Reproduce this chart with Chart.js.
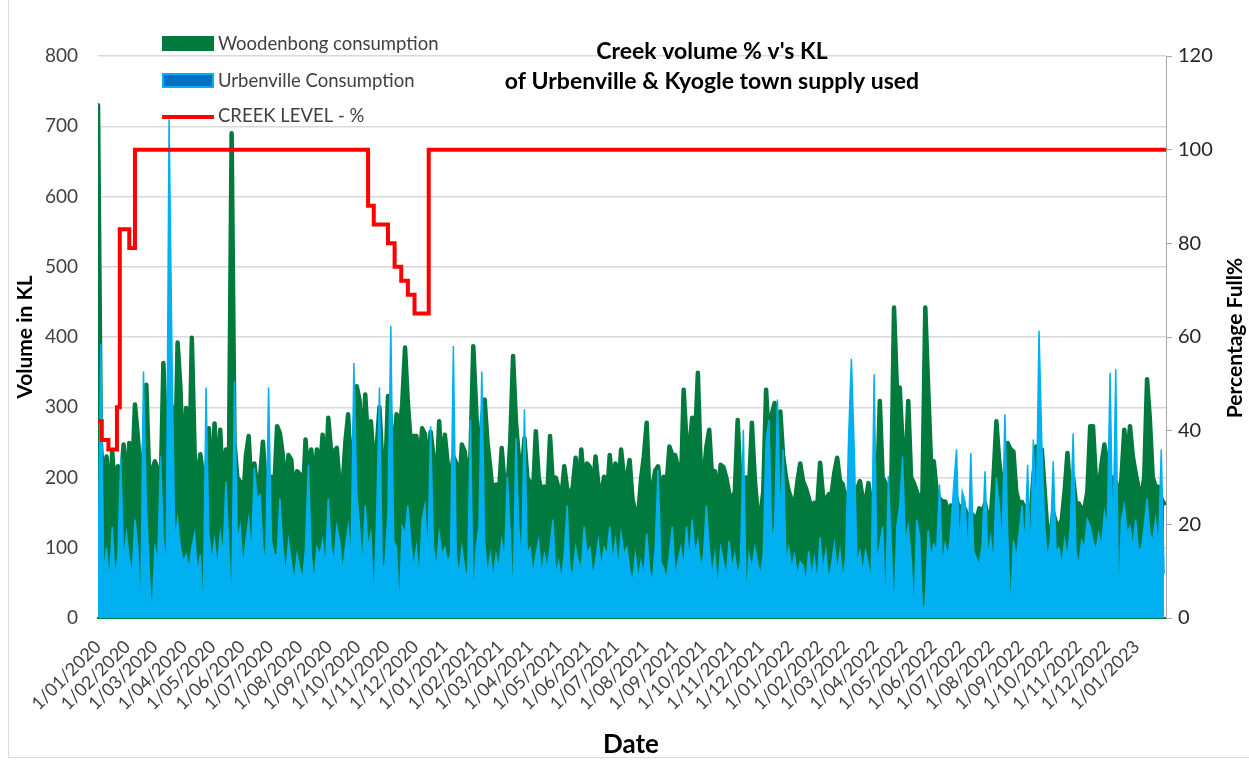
<!DOCTYPE html>
<html>
<head>
<meta charset="utf-8">
<script src="https://cdn.jsdelivr.net/npm/chart.js@4.4.1/dist/chart.umd.min.js"></script>
<style>
  html, body { margin: 0; padding: 0; background: #fff; overflow: hidden; }
  #wrap { position: relative; width: 1249px; height: 761px; }
  #frame { position: absolute; left: 8px; top: -2px; width: 1260px; height: 760px; border: 1px solid #d9d9d9; box-sizing: border-box; pointer-events: none; }
  canvas { position: absolute; left: 0; top: 0; }
</style>
</head>
<body>
<div id="wrap"><canvas id="chart" width="1249" height="761"></canvas><div id="frame"></div></div>
<script>
const GREEN = "#007a3d";
const BLUE = "#00b0f0";
const RED = "#ff0000";
const FONT = "Lato, 'Open Sans', sans-serif";

const TITLE = ["Creek volume % v's KL", "of Urbenville & Kyogle town supply used"];
const SERIES_NAMES = ["Woodenbong consumption", "Urbenville Consumption", "CREEK LEVEL - %"];
const START = Date.UTC(2020, 0, 1);
const SAMPLE_DAYS = 3; // one reading every 3 days from 1/01/2020

// Woodenbong consumption, KL
const woodenbong = [
  730,250,180,230,160,237,175,216,190,247, 185,249,200,304,259,200,230,332,200,210,
  223,211,175,363,250,280,301,190,392,328, 200,299,180,399,235,180,233,200,200,270,
  180,277,190,268,175,240,190,690,250,200, 194,160,230,259,180,220,185,200,251,190,
  200,201,185,
  273,263,232,180,232,225,170,209,205,165, 254,200,240,190,240,200,261,190,285,237,
  237,242,190,185,250,290,200,250,330,310, 230,318,250,280,220,240,300,220,197,316,
  280,220,290,260,304,385,306,250,259,259, 210,270,262,210,265,230,180,280,200,261,
  220,199,
  230,220,180,247,237,200,230,387,300,200, 280,311,250,213,170,190,175,242,190,180,
  250,373,280,230,200,256,200,192,175,266, 200,180,187,170,259,190,200,185,170,216,
  185,170,187,228,180,240,190,220,215,175, 230,190,175,201,170,232,185,220,175,240,
  200,
  200,225,170,150,145,197,230,278,170,185, 210,216,175,201,190,244,232,232,215,180,
  325,251,240,285,250,349,216,200,244,268, 200,209,170,218,215,200,178,165,180,282,
  192,180,200,185,278,200,150,145,180,325, 250,290,306,250,294,230,200,180,168,160,
  194,220,
  195,185,171,155,164,160,221,175,166,176, 176,207,228,195,190,165,180,175,165,183,
  195,170,165,192,160,150,170,309,200,192, 170,180,442,328,328,250,200,309,200,192,
  180,165,180,442,328,223,223,180,170,166, 166,150,160,155,170,150,160,155,140,150,
  145,140,
  156,150,163,145,140,200,280,223,190,200, 249,240,237,180,163,165,155,160,140,200,
  244,200,240,180,120,118,150,135,130,140, 180,235,178,200,163,163,155,156,180,273,
  273,197,185,220,247,220,190,200,194,165, 200,268,220,273,230,206,185,173,200,340,
  282,200,187,187,170,163
];

// Urbenville consumption, KL
const urbenville = [
  60,390,60,100,50,130,55,90,228,80, 120,85,60,140,100,0,351,160,70,0,
  100,80,230,110,70,710,382,110,140,100, 80,90,70,100,120,60,90,0,328,120,
  80,110,70,120,90,194,100,10,337,110, 130,70,110,140,90,214,170,175,100,80,
  328,110,90,
  90,170,100,60,110,80,50,90,70,55, 100,218,90,50,100,90,110,70,170,100,
  80,130,110,65,100,130,80,363,180,130, 70,160,100,120,20,140,328,65,80,150,
  416,110,100,10,130,120,160,110,70,100, 55,140,160,80,273,100,70,120,90,100,
  80,90,
  387,90,60,100,70,55,282,20,100,130, 351,110,60,90,55,90,70,110,80,201,
  120,20,256,130,80,297,90,100,60,90, 110,60,90,70,100,140,60,80,55,90,
  160,70,60,100,80,70,130,90,100,60, 80,110,70,100,90,130,80,110,70,120,
  90,
  100,70,50,90,55,80,60,120,70,50, 100,211,80,70,55,90,130,60,80,100,
  70,130,80,140,90,110,70,90,160,100, 60,90,40,100,80,60,110,70,90,60,
  80,268,20,90,70,100,80,60,90,251, 282,110,130,311,140,240,80,100,70,90,
  60,80,
  75,50,95,55,85,50,115,65,95,55, 75,105,65,95,55,85,254,369,240,75,
  95,65,95,75,55,347,75,105,130,5, 202,105,5,130,160,230,105,130,85,5,
  140,115,10,20,125,85,105,95,190,75, 105,85,125,190,240,95,180,165,85,235,
  95,85,
  75,105,209,85,115,75,200,160,100,290, 120,5,110,85,120,160,100,218,85,254,
  140,409,247,130,85,110,223,95,100,75, 110,85,130,263,95,75,110,100,140,130,
  110,95,120,100,150,130,349,100,354,10, 140,160,120,130,100,140,95,100,130,170,
  120,110,140,100,240,63
];

// Creek level %, day (since 1/01/2020) on which each new level starts
const creekDays  = [0, 4, 11, 20, 23, 33, 39, 285, 291, 306, 313, 320, 327, 334, 349, 1127];
const creekLevel = [42, 38, 36, 45, 83, 79, 100, 88, 84, 80, 75, 72, 69, 65, 100, 100];

const monthLabels = [
  "1/01/2020","1/02/2020","1/03/2020","1/04/2020","1/05/2020","1/06/2020","1/07/2020","1/08/2020",
  "1/09/2020","1/10/2020","1/11/2020","1/12/2020","1/01/2021","1/02/2021","1/03/2021","1/04/2021",
  "1/05/2021","1/06/2021","1/07/2021","1/08/2021","1/09/2021","1/10/2021","1/11/2021","1/12/2021",
  "1/01/2022","1/02/2022","1/03/2022","1/04/2022","1/05/2022","1/06/2022","1/07/2022","1/08/2022",
  "1/09/2022","1/10/2022","1/11/2022","1/12/2022","1/01/2023"
];
const LAST_DAY = 1127;

function dayOf(label) {
  const [d, m, y] = label.split("/").map(Number);
  return (Date.UTC(y, m - 1, d) - START) / 86400000;
}
const tickDays = monthLabels.map(dayOf);

const pts = (arr) => arr.map((v, i) => ({ x: i * SAMPLE_DAYS, y: v }));

const overlay = {
  id: "overlay",
  afterDraw(chart) {
    const c = chart.ctx;
    c.save();
    c.textBaseline = "middle";

    c.fillStyle = "#000";
    c.textAlign = "center";
    c.font = "bold 23px " + FONT;
    c.fillText(TITLE[0], 712, 52);
    c.fillText(TITLE[1], 712, 82);

    // legend
    c.textAlign = "left";
    c.font = "18.5px " + FONT;
    c.fillStyle = GREEN;
    c.fillRect(162, 36, 52, 15);
    c.fillStyle = "#0070c0";
    c.fillRect(163, 74, 50, 13);
    c.strokeStyle = BLUE;
    c.lineWidth = 2;
    c.strokeRect(163, 74, 50, 13);
    c.strokeStyle = RED;
    c.lineWidth = 4;
    c.beginPath(); c.moveTo(162, 117); c.lineTo(214, 117); c.stroke();
    c.fillStyle = "#404040";
    c.fillText(SERIES_NAMES[0], 218, 44);
    c.fillText(SERIES_NAMES[1], 218, 81);
    c.fillText(SERIES_NAMES[2], 218, 116);

    // axis titles
    c.fillStyle = "#000";
    c.textAlign = "center";
    c.font = "bold 26px " + FONT;
    c.fillText("Date", 631, 745);
    c.font = "bold 21px " + FONT;
    c.translate(25, 337); c.rotate(-Math.PI / 2); c.fillText("Volume in KL", 0, 0);
    c.setTransform(1, 0, 0, 1, 0, 0);
    c.translate(1235, 338); c.rotate(-Math.PI / 2); c.fillText("Percentage Full%", 0, 0);
    c.restore();
  }
};

function draw() {
  new Chart(document.getElementById("chart").getContext("2d"), {
    type: "line",
    data: {
      datasets: [
        {
          label: SERIES_NAMES[2], data: creekDays.map((d, i) => ({ x: d, y: creekLevel[i] })),
          yAxisID: "y2", borderColor: RED, borderWidth: 4, stepped: "before",
          pointRadius: 0, fill: false, order: 0
        },
        {
          label: SERIES_NAMES[1], data: pts(urbenville), yAxisID: "y",
          borderColor: BLUE, backgroundColor: BLUE, borderWidth: 1.5,
          pointRadius: 0, tension: 0, fill: "origin", order: 1
        },
        {
          label: SERIES_NAMES[0], data: pts(woodenbong), yAxisID: "y",
          borderColor: GREEN, backgroundColor: GREEN, borderWidth: 4.5,
          borderJoinStyle: "round", borderCapStyle: "round",
          pointRadius: 0, tension: 0, fill: "origin", order: 2
        }
      ]
    },
    options: {
      responsive: false,
      animation: false,
      layout: { padding: { top: 56, left: 0, right: 0, bottom: 0 } },
      plugins: { legend: { display: false }, tooltip: { enabled: false } },
      scales: {
        x: {
          type: "linear", min: 0, max: LAST_DAY, z: 1,
          afterBuildTicks: (s) => { s.ticks = tickDays.map((v) => ({ value: v })); },
          afterFit: (s) => { s.height = 143; },
          grid: { display: false, drawTicks: false },
          border: { display: true, color: GREEN, width: 2 },
          ticks: {
            autoSkip: false, minRotation: 45, maxRotation: 45, padding: 18,
            color: "#404040", font: { family: FONT, size: 18 },
            callback: (v, i) => monthLabels[i]
          }
        },
        y: {
          position: "left", min: 0, max: 800,
          afterFit: (s) => { s.width = 98; },
          grid: { color: "#d9d9d9", lineWidth: 1.5, drawTicks: false },
          border: { display: false },
          ticks: { stepSize: 100, padding: 20, color: "#404040", font: { family: FONT, size: 19 } }
        },
        y2: {
          position: "right", min: 0, max: 120,
          afterFit: (s) => { s.width = 83; },
          grid: { drawOnChartArea: false, drawTicks: true, tickLength: 6, color: "#a6a6a6" },
          border: { display: true, color: "#a6a6a6", width: 1 },
          ticks: { stepSize: 20, padding: 6, color: "#262626", font: { family: FONT, size: 20 } }
        }
      }
    },
    plugins: [overlay]
  });
}

Promise.all([
  document.fonts.load("18px Lato"),
  document.fonts.load("bold 18px Lato")
]).then(draw, draw);
</script>
</body>
</html>
